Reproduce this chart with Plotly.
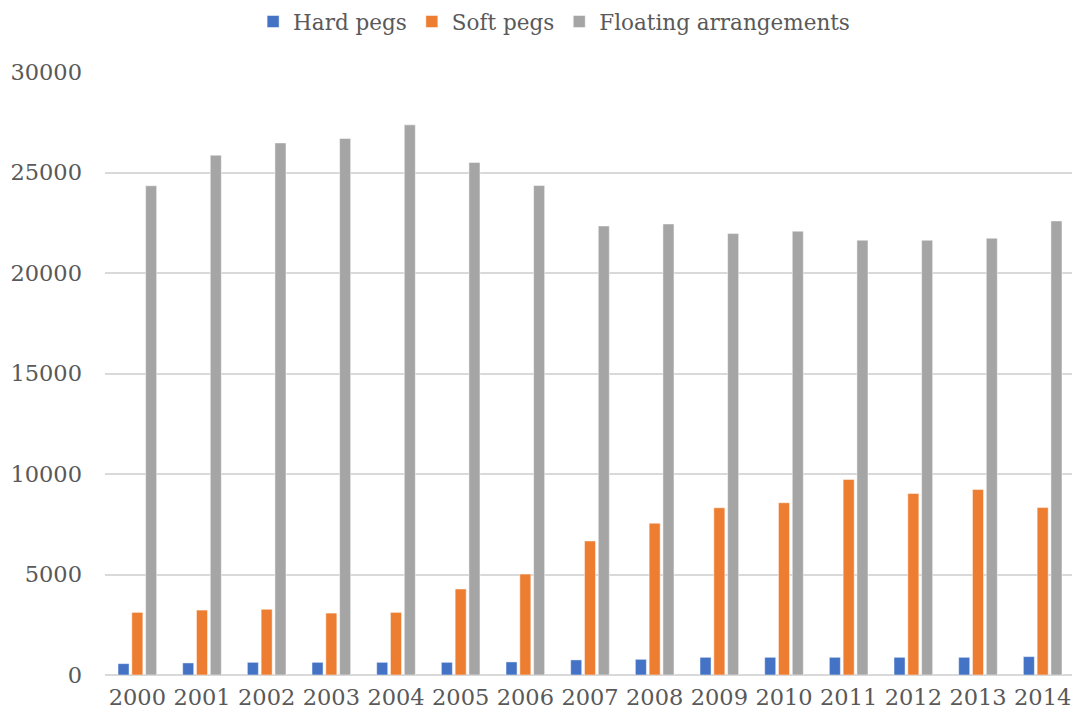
import plotly.graph_objects as go

years = [str(y) for y in range(2000, 2015)]
hard_pegs = [565, 600, 630, 630, 630, 630, 650, 750, 780, 880, 880, 880, 880, 880, 915]
soft_pegs = [3115, 3230, 3270, 3080, 3115, 4280, 5020, 6670, 7550, 8320, 8570, 9730, 9030, 9230, 8330]
floating = [24340, 25860, 26470, 26690, 27370, 25500, 24350, 22340, 22440, 21960, 22080, 21630, 21630, 21730, 22590]

series = [
    ("Hard pegs", hard_pegs, "#4472C4"),
    ("Soft pegs", soft_pegs, "#ED7D31"),
    ("Floating arrangements", floating, "#A5A5A5"),
]

fig = go.Figure()
for name, vals, col in series:
    fig.add_trace(go.Bar(
        x=years, y=vals, name=name,
        marker=dict(color=col, line=dict(color="rgba(255,255,255,0.6)", width=0.8)),
    ))

font_family = "DejaVu Serif"
fs = 22.5
fig.update_layout(
    width=1072, height=716,
    barmode="group", bargap=0.36, bargroupgap=0.2,
    plot_bgcolor="white", paper_bgcolor="white",
    margin=dict(l=97, r=5, t=64, b=49, autoexpand=False),
    font=dict(family=font_family, size=fs, color="#595959"),
    legend=dict(orientation="h", x=0.463, xanchor="center", yref="paper",
                y=1.1177, yanchor="top", font=dict(size=21.5, color="#595959"),
                itemwidth=30, traceorder="normal"),
    showlegend=True,
)
fig.update_xaxes(showgrid=False, showline=False, ticks="", tickfont=dict(size=fs),
                 ticklabelstandoff=6, automargin=False)
fig.update_yaxes(range=[0, 30000], dtick=5000, tickformat="d", showgrid=True, gridcolor="#D9D9D9",
                 gridwidth=1.5, zeroline=True, zerolinecolor="#D9D9D9", zerolinewidth=1.8,
                 showline=False, ticks="", tickfont=dict(size=fs), ticklabelstandoff=22,
                 automargin=False)

fig.write_html("out.html")
